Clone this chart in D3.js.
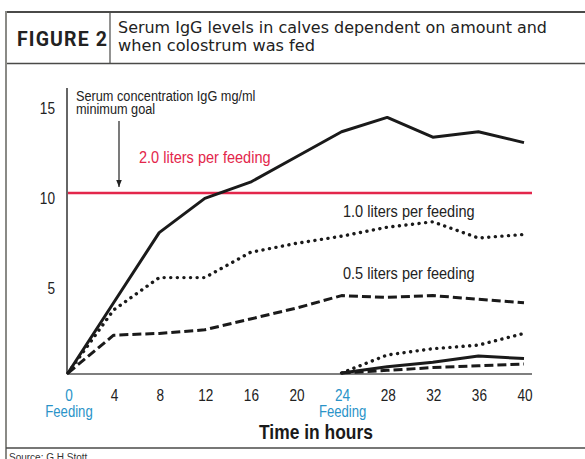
<!DOCTYPE html>
<html>
<head>
  <meta charset="utf-8">
  <title>Figure 2</title>
  <script src="https://d3js.org/d3.v7.min.js" charset="utf-8"></script>
  <style>
    body { margin: 0; background: #fff; }
    .narrow { font-family: "Liberation Sans", Arial, sans-serif; }
  </style>
</head>
<body>
<script>
var w = 585;
var h = 459;

// data (hours, IgG mg/ml)
var hours = [0, 4, 8, 12, 16, 20, 24, 28, 32, 36, 40];
var liters20 = [0, 3.9, 7.8, 9.7, 10.6, 12.0, 13.4, 14.2, 13.1, 13.4, 12.8];
var liters10 = [0, 3.5, 5.3, 5.3, 6.7, 7.2, 7.6, 8.1, 8.4, 7.5, 7.7];
var liters05 = [0, 2.1, 2.2, 2.4, 3.0, 3.6, 4.3, 4.2, 4.3, 4.1, 3.9];
var hours2 = [24, 28, 32, 36, 40];
var second20 = [0, 0.35, 0.6, 0.95, 0.8];
var second10 = [0, 1.0, 1.35, 1.55, 2.2];
var second05 = [0, 0.15, 0.3, 0.4, 0.5];
var goal = 10;
var xTicks = [0, 4, 8, 12, 16, 20, 24, 28, 32, 36, 40];
var yTicks = [5, 10, 15];
var feedings = [0, 24];

var svg = d3.select("body")
            .append("svg")
            .attr("width", w)
            .attr("height", h);

// squeeze a text horizontally, the figure uses a condensed face
function condense(sel, k) {
  sel.each(function () {
    var len = this.getComputedTextLength();
    d3.select(this).attr("textLength", len * k).attr("lengthAdjust", "spacingAndGlyphs");
  });
  return sel;
}

// frame and header
var frame = "#4a4a48";
svg.append("line").attr("x1", 6).attr("x2", w).attr("y1", 12).attr("y2", 12)
   .attr("stroke", frame).attr("stroke-width", 2);
svg.append("line").attr("x1", 6).attr("x2", w).attr("y1", 63.5).attr("y2", 63.5)
   .attr("stroke", frame).attr("stroke-width", 1.5);
svg.append("line").attr("x1", 6).attr("x2", 6).attr("y1", 11).attr("y2", h)
   .attr("stroke", "#8a8a86").attr("stroke-width", 2);
svg.append("line").attr("x1", 110).attr("x2", 110).attr("y1", 12).attr("y2", 63.5)
   .attr("stroke", frame).attr("stroke-width", 1.2);
svg.append("line").attr("x1", 6).attr("x2", w).attr("y1", 448).attr("y2", 448)
   .attr("stroke", frame).attr("stroke-width", 1.5);

svg.append("text").text("FIGURE 2")
   .attr("x", 17).attr("y", 46)
   .attr("font-family", "Roboto, 'Liberation Sans', sans-serif")
   .attr("font-weight", "bold").attr("font-size", 19.5)
   .attr("fill", "#222")
   .attr("textLength", 90).attr("lengthAdjust", "spacing");

svg.append("text").text("Serum IgG levels in calves dependent on amount and")
   .attr("x", 118).attr("y", 33)
   .attr("font-family", "'DejaVu Sans', sans-serif")
   .attr("font-size", 15).attr("fill", "#222")
   .attr("textLength", 429).attr("lengthAdjust", "spacingAndGlyphs");
svg.append("text").text("when colostrum was fed")
   .attr("x", 118).attr("y", 51)
   .attr("font-family", "'DejaVu Sans', sans-serif")
   .attr("font-size", 15).attr("fill", "#222")
   .attr("textLength", 197).attr("lengthAdjust", "spacingAndGlyphs");

svg.append("text").text("Source: G.H.Stott")
   .attr("x", 9).attr("y", 461)
   .attr("font-family", "'Liberation Sans', sans-serif")
   .attr("font-size", 10).attr("fill", "#333");

// scales
var x = d3.scaleLinear().domain([0, 40]).range([68, 524]);
var y = d3.scaleLinear().domain([0, 15]).range([373, 103]);

// axes
svg.append("line").attr("x1", 67).attr("x2", 67).attr("y1", 88).attr("y2", 374)
   .attr("stroke", "#333").attr("stroke-width", 1.5);
svg.append("line").attr("x1", 67).attr("x2", 532).attr("y1", 374).attr("y2", 374)
   .attr("stroke", "#555").attr("stroke-width", 1.5);

svg.selectAll("text.ytick")
   .data(yTicks)
   .enter()
   .append("text")
   .attr("class", "ytick narrow")
   .text(function (d) { return d; })
   .attr("x", 55).attr("y", function (d) { return y(d) + 11; })
   .attr("text-anchor", "end")
   .attr("font-size", 16).attr("fill", "#222")
   .call(condense, 0.85);

svg.selectAll("text.xtick")
   .data(xTicks)
   .enter()
   .append("text")
   .attr("class", "xtick narrow")
   .text(function (d) { return d; })
   .attr("x", function (d) { return x(d) + 1; })
   .attr("y", 401)
   .attr("text-anchor", "middle")
   .attr("font-size", 16)
   .attr("fill", function (d) { return feedings.indexOf(d) >= 0 ? "#2a93c8" : "#222"; })
   .call(condense, 0.85);

svg.selectAll("text.feed")
   .data(feedings)
   .enter()
   .append("text")
   .attr("class", "feed narrow")
   .text("Feeding")
   .attr("x", function (d) { return x(d) + 1; })
   .attr("y", 417)
   .attr("text-anchor", "middle")
   .attr("font-size", 16).attr("fill", "#2a93c8")
   .call(condense, 0.82);

svg.append("text").attr("class", "narrow").text("Time in hours")
   .attr("x", 316).attr("y", 439)
   .attr("text-anchor", "middle")
   .attr("font-weight", "bold").attr("font-size", 20.5).attr("fill", "#1a1a1a")
   .call(condense, 0.85);

// goal line
svg.append("line")
   .attr("x1", x(0)).attr("x2", 532)
   .attr("y1", y(goal)).attr("y2", y(goal))
   .attr("stroke", "#e3264b").attr("stroke-width", 2.5);

svg.append("text").attr("class", "narrow").text("Serum concentration IgG mg/ml")
   .attr("x", 76).attr("y", 101).attr("font-size", 15.5).attr("fill", "#222")
   .call(condense, 0.82);
svg.append("text").attr("class", "narrow").text("minimum goal")
   .attr("x", 76).attr("y", 114).attr("font-size", 15.5).attr("fill", "#222")
   .call(condense, 0.82);

svg.append("defs").append("marker")
   .attr("id", "arr").attr("viewBox", "0 0 10 10")
   .attr("refX", 10).attr("refY", 5)
   .attr("markerWidth", 6).attr("markerHeight", 6)
   .attr("orient", "auto")
   .append("path").attr("d", "M0,1 L10,5 L0,9 Z").attr("fill", "#222");
svg.append("line")
   .attr("x1", 119).attr("x2", 119).attr("y1", 121).attr("y2", 187)
   .attr("stroke", "#222").attr("stroke-width", 1.2)
   .attr("marker-end", "url(#arr)");

svg.append("text").attr("class", "narrow").text("2.0 liters per feeding")
   .attr("x", 139).attr("y", 163).attr("font-size", 16.5).attr("fill", "#e3264b")
   .call(condense, 0.88);
svg.append("text").attr("class", "narrow").text("1.0 liters per feeding")
   .attr("x", 343).attr("y", 217).attr("font-size", 16.5).attr("fill", "#222")
   .call(condense, 0.88);
svg.append("text").attr("class", "narrow").text("0.5 liters per feeding")
   .attr("x", 343).attr("y", 279).attr("font-size", 16.5).attr("fill", "#222")
   .call(condense, 0.88);

// series
var line = d3.line()
  .x(function (d) { return x(d[0]); })
  .y(function (d) { return y(d[1]); });

var series = [
  { xs: hours, ys: liters05, dash: "9,4", cap: "butt" },
  { xs: hours, ys: liters10, dash: "0.1,6.5", cap: "round" },
  { xs: hours, ys: liters20, dash: null, cap: "butt" },
  { xs: hours2, ys: second05, dash: "9,4", cap: "butt" },
  { xs: hours2, ys: second10, dash: "0.1,6.5", cap: "round" },
  { xs: hours2, ys: second20, dash: null, cap: "butt" }
];

svg.selectAll("path.series")
   .data(series)
   .enter()
   .append("path")
   .attr("class", "series")
   .attr("d", function (s) { return line(s.xs.map(function (t, i) { return [t, s.ys[i]]; })); })
   .attr("fill", "none")
   .attr("stroke", "#1a1a1a")
   .attr("stroke-width", function (s) { return s.cap === "round" ? 3.4 : 3; })
   .attr("stroke-linecap", function (s) { return s.cap; })
   .attr("stroke-linejoin", "round")
   .attr("stroke-dasharray", function (s) { return s.dash; });
</script>
</body>
</html>
